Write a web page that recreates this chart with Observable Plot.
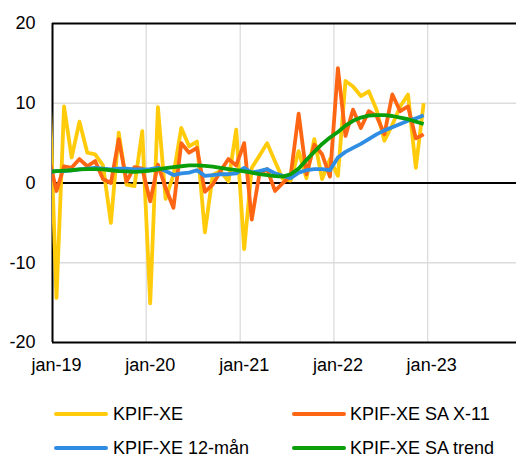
<!DOCTYPE html>
<html><head><meta charset="utf-8">
<script src="https://cdn.jsdelivr.net/npm/d3@7"></script>
<script src="https://cdn.jsdelivr.net/npm/@observablehq/plot@0.6"></script>
<style>
body{margin:0;background:#fff;font-family:"Liberation Sans",Arial,sans-serif}
#wrap{position:relative;width:516px;height:458px;overflow:hidden;background:#fff}
#chart svg{display:block}
.sw{position:absolute;height:4px;width:54px;border-radius:2px}
.lb{position:absolute;font-size:18px;line-height:12px;height:12px;white-space:nowrap;color:#000}
</style></head>
<body><div id="wrap"><div id="chart"></div><div id="legend"></div></div>
<script>
// Monthly observations, dec-18 .. dec-22 (dec-18 lies left of the axis and is clipped)
const firstMonth = "2018-12";
const kpifXE = [15,
 -14.4, 9.6, 3.2, 7.7, 3.8, 3.6, 2.2, -5.0, 6.3, -0.2, -0.4, 6.5,
 -15.1, 9.5, -2.0, 1.0, 6.9, 4.6, 5.2, -6.2, 1.0, 1.5, 0.2, 6.7,
 -8.3, 1.9, 3.4, 5.0, 2.7, 0.5, 0.3, 4.0, 0.6, 5.5, 0.5, 3.0,
 0.9, 12.8, 12.1, 10.9, 11.5, 9.2, 5.3, 7.3, 9.6, 11.1, 1.9, 10.0];
const kpifXE_SA = [3.3,
 -1.0, 2.1, 1.9, 3.0, 2.1, 2.75, 0.5, 0.0, 5.5, 0.2, 2.0, 1.8,
 -2.3, 2.3, -0.6, -3.1, 5.0, 3.8, 4.4, -1.1, -0.2, 1.5, 3.0, 2.2,
 5.0, -4.6, 1.1, 1.75, -1.0, 0.0, 0.9, 8.7, 1.1, 4.8, 3.6, 0.8,
 14.4, 5.9, 9.2, 6.9, 9.0, 8.4, 6.1, 11.1, 9.0, 9.6, 5.6, 6.1];
const kpifXE_12m = [1.4,
 1.5, 1.5, 1.6, 1.7, 1.8, 1.9, 1.8, 1.7, 1.8, 1.8, 1.7, 1.7,
 1.75, 1.9, 1.5, 1.0, 1.2, 1.3, 1.6, 0.9, 1.0, 1.1, 1.1, 1.2,
 1.9, 1.3, 1.5, 1.75, 1.2, 0.9, 0.6, 1.3, 1.6, 1.75, 1.75, 1.6,
 3.2, 3.9, 4.4, 4.9, 5.5, 6.1, 6.6, 7.0, 7.4, 7.8, 8.1, 8.5];
const kpifXE_trend = [1.4,
 1.5, 1.55, 1.6, 1.7, 1.75, 1.75, 1.7, 1.6, 1.5, 1.45, 1.4, 1.45,
 1.55, 1.7, 1.85, 2.0, 2.1, 2.2, 2.2, 2.15, 2.05, 1.9, 1.75, 1.6,
 1.45, 1.3, 1.1, 1.0, 0.85, 0.8, 1.1, 1.8, 2.9, 3.9, 4.9, 5.7,
 6.4, 7.2, 7.8, 8.2, 8.45, 8.5, 8.5, 8.4, 8.2, 8.0, 7.7, 7.4];

const seriesNames = ["KPIF-XE", "KPIF-XE SA X-11", "KPIF-XE 12-mån", "KPIF-XE SA trend"];
const seriesColors = ["#FFCB0A", "#FF6614", "#2F8DE4", "#0A9E0A"];
const tickYears = [2019, 2020, 2021, 2022, 2023];
const tickLabels = ["jan-19", "jan-20", "jan-21", "jan-22", "jan-23"];
const yTicks = [-20, -10, 0, 10, 20];

const start = d3.utcParse("%Y-%m")(firstMonth);
const months = d3.utcMonth.range(start, d3.utcMonth.offset(start, kpifXE.length));
const midMonth = d => new Date((+d + +d3.utcMonth.offset(d, 1)) / 2);
const allValues = [kpifXE, kpifXE_SA, kpifXE_12m, kpifXE_trend];
const rows = allValues.flatMap((vals, s) => vals.map((v, i) => ({date: midMonth(months[i]), value: v, series: seriesNames[s]})));

const x0 = new Date(Date.UTC(2019, 0, 1));
const x1 = new Date(Date.UTC(2023, 11, 13));
const gridDates = tickYears.slice(1).map(y => new Date(Date.UTC(y, 0, 1)));
const tickDates = tickYears.map(y => midMonth(new Date(Date.UTC(y, 0, 1))));

const chart = Plot.plot({
  width: 516, height: 390,
  marginLeft: 52, marginRight: 0, marginTop: 23, marginBottom: 48,
  style: {fontFamily: "'Liberation Sans', Arial, sans-serif", fontSize: "18px", color: "#000", background: "#fff", overflow: "visible"},
  x: {type: "utc", domain: [x0, x1]},
  y: {domain: [-20, 20]},
  marks: [
    Plot.ruleY([-10, 10], {stroke: "#dcdcdc", strokeWidth: 1.3}),
    Plot.ruleX(gridDates, {stroke: "#dcdcdc", strokeWidth: 1.3}),
    Plot.ruleY([-20, 0, 20], {stroke: "#000", strokeWidth: 2}),
    Plot.ruleX([x0], {stroke: "#000", strokeWidth: 2}),
    Plot.axisY({ticks: yTicks, tickSize: 0, tickPadding: 17, fontSize: 18, label: null, tickFormat: d => String(d)}),
    Plot.axisX({ticks: tickDates, tickSize: 0, tickPadding: 16, fontSize: 18, label: null,
      tickFormat: d => tickLabels[tickYears.indexOf(d.getUTCFullYear())]}),
    ...seriesNames.map((name, s) => Plot.line(rows.filter(r => r.series === name), {
      x: "date", y: "value", stroke: seriesColors[s], strokeWidth: 3.8,
      strokeLinejoin: "round", strokeLinecap: "butt", clip: true
    }))
  ]
});
document.getElementById("chart").appendChild(chart);

// Legend (HTML, below the SVG)
const legend = document.getElementById("legend");
const pos = [[54, 113, 413.5], [292, 350, 413.5], [54, 113, 447.5]];
pos.push([292, 350, 447.5]);
seriesNames.forEach((name, i) => {
  const [sx, tx, cy] = pos[i];
  const sw = document.createElement("div");
  sw.className = "sw";
  sw.style.left = sx + "px"; sw.style.top = (cy - 2) + "px"; sw.style.background = seriesColors[i];
  legend.appendChild(sw);
  const lb = document.createElement("div");
  lb.className = "lb";
  lb.style.left = tx + "px"; lb.style.top = (cy - 5.8) + "px";
  lb.textContent = name;
  legend.appendChild(lb);
});
</script>
</body></html>
